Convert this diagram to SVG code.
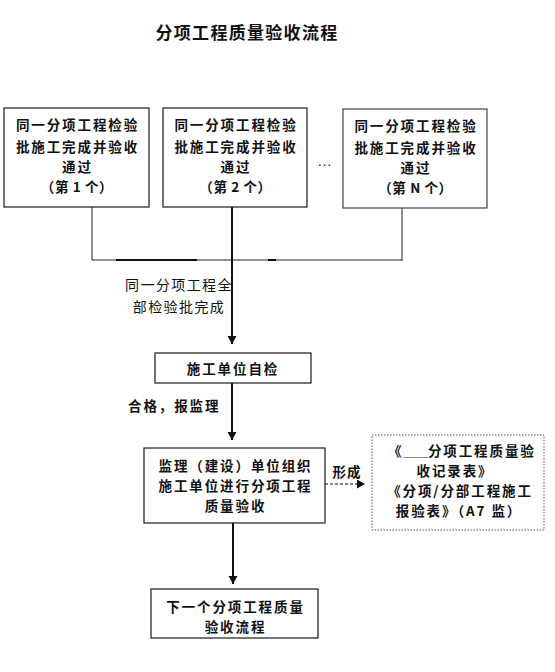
<svg xmlns="http://www.w3.org/2000/svg" width="555" height="672" viewBox="0 0 555 672">
<style>
.box{fill:#fff;stroke:#1a1a1a;stroke-width:1.2}
.dot{fill:#fff;stroke:#555;stroke-width:1;stroke-dasharray:1.5 1.5}
.t{font-family:"Noto Sans CJK SC","Noto Sans",sans-serif;font-size:13.5px;letter-spacing:1.9px;font-weight:bold;fill:#111;text-anchor:middle}
.n{letter-spacing:0.6px}
.r{font-family:"Noto Sans CJK SC","Noto Sans",sans-serif;font-size:14px;letter-spacing:1.4px;fill:#111}
.thin{stroke:#222;stroke-width:1;fill:none}
.main{stroke:#111;stroke-width:2;fill:none}
</style>
<defs>
<marker id="ah" markerUnits="userSpaceOnUse" markerWidth="9" markerHeight="10" refX="8" refY="4.5" orient="auto">
<path d="M0,0 L8,4.5 L0,9 Z" fill="#111"/>
</marker>
</defs>
<text class="t" x="247" y="38.5" style="font-size:17px;letter-spacing:1.3px">分项工程质量验收流程</text>
<g id="connectors">
<line class="thin" x1="92" y1="207" x2="92" y2="260"/>
<line class="thin" x1="402" y1="208" x2="402" y2="261"/>
<line class="thin" x1="92" y1="260" x2="402" y2="260"/>
<line stroke="#111" stroke-width="2" x1="116" y1="260" x2="197" y2="260"/>
<line stroke="#111" stroke-width="2" x1="268" y1="260" x2="276" y2="260"/>
<line class="main" x1="232" y1="207" x2="232" y2="344" marker-end="url(#ah)"/>
<line class="main" x1="232" y1="383" x2="232" y2="440" marker-end="url(#ah)"/>
<line class="main" x1="233" y1="523" x2="233" y2="584" marker-end="url(#ah)" stroke="#444"/>
<line x1="325" y1="484" x2="365" y2="484" stroke="#111" stroke-width="1.2" stroke-dasharray="3 2" marker-end="url(#ah)"/>
<text class="r" x="179" y="290" text-anchor="middle">同一分项工程全</text>
<text class="r" x="179" y="312" text-anchor="middle">部检验批完成</text>
<text class="t" x="128" y="411" style="text-anchor:start">合格，报监理</text>
<text class="t" x="347" y="477" style="letter-spacing:1px">形成</text>
</g>
<g id="node1">
<rect class="box" x="4" y="108" width="145" height="99"/>
<text class="t" x="77.5" y="129.5">同一分项工程检验</text>
<text class="t" x="77.5" y="151.5">批施工完成并验收</text>
<text class="t" x="77.5" y="172">通过</text>
<text class="t n" x="77" y="192">（第 1 个）</text>
</g>
<g id="node2">
<rect class="box" x="163" y="108" width="144" height="99"/>
<text class="t" x="236" y="129.5">同一分项工程检验</text>
<text class="t" x="236" y="151.5">批施工完成并验收</text>
<text class="t" x="236" y="172">通过</text>
<text class="t n" x="235.5" y="192">（第 2 个）</text>
</g>
<text x="317" y="166" style="font-family:'Liberation Sans',sans-serif;font-size:15px;fill:#222">…</text>
<g id="node3">
<rect class="box" x="343" y="109" width="144" height="99" style="stroke:#444"/>
<text class="t" x="416" y="130.5">同一分项工程检验</text>
<text class="t" x="416" y="152.5">批施工完成并验收</text>
<text class="t" x="416" y="173">通过</text>
<text class="t n" x="415.5" y="193">（第 N 个）</text>
</g>
<g id="node4">
<rect class="box" x="155" y="353" width="156" height="30"/>
<text class="t" x="233" y="374">施工单位自检</text>
</g>
<g id="node5">
<rect class="box" x="144" y="448" width="181" height="75"/>
<text class="t" x="235.5" y="471">监理（建设）单位组织</text>
<text class="t" x="235.5" y="491">施工单位进行分项工程</text>
<text class="t" x="235.5" y="510.5">质量验收</text>
</g>
<g id="node6">
<rect class="dot" x="372" y="435" width="172" height="95"/>
<text class="t" x="388" y="456" style="text-anchor:start">《<tspan style="font-family:'Liberation Sans',sans-serif;font-size:11px;font-weight:normal;letter-spacing:0;fill:#666">____</tspan>分项工程质量验</text>
<text class="t" x="455" y="476">收记录表》</text>
<text class="t" x="460" y="495.5">《分项/分部工程施工</text>
<text class="t" x="459" y="515.5">报验表》（A7 监）</text>
</g>
<g id="node7">
<rect class="box" x="151" y="589" width="167" height="49"/>
<text class="t" x="235.5" y="612">下一个分项工程质量</text>
<text class="t" x="235.5" y="632">验收流程</text>
</g>
</svg>
